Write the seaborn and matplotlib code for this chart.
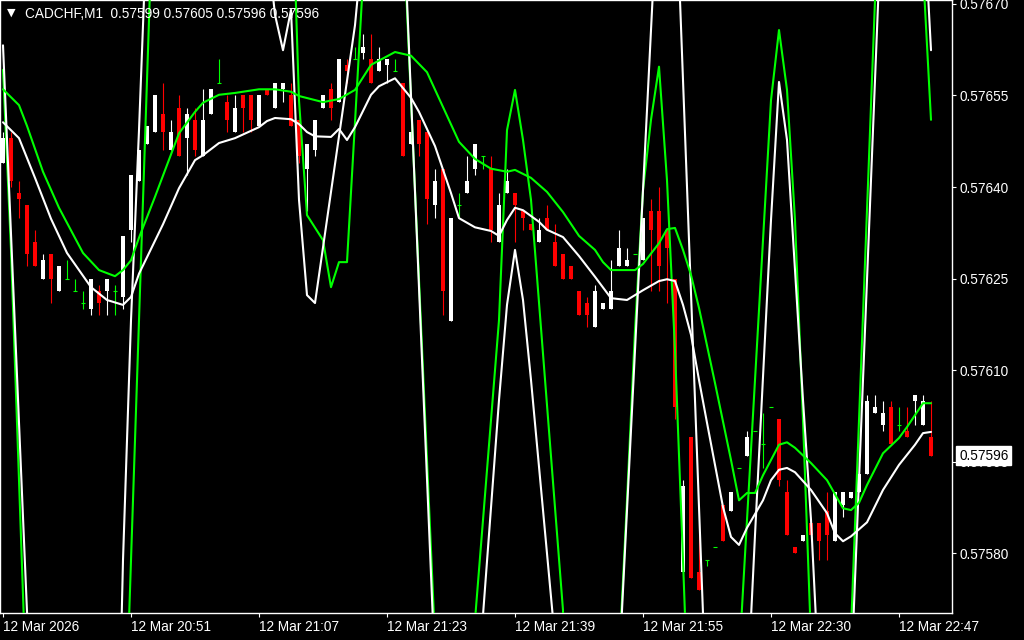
import numpy as np
import matplotlib
matplotlib.use("Agg")
import matplotlib.pyplot as plt
import seaborn as sns
from matplotlib.transforms import blended_transform_factory

# ---------------- data ----------------
symbol_title = "CADCHF,M1  0.57599 0.57605 0.57596 0.57596"
last_price = 0.57596
last_price_label = "0.57596"

open_ = [0.57644, 0.57648, 0.57639, 0.57637, 0.57631, 0.57625, 0.57629, 0.57623, 0.57625, 0.57623,
         0.57621, 0.57620, 0.57623, 0.57623, 0.57623, 0.57622, 0.57633, 0.57641, 0.57647, 0.57649,
         0.57652, 0.57646, 0.57653, 0.57648, 0.57651, 0.57645, 0.57652, 0.57657, 0.57654, 0.57649,
         0.57655, 0.57655, 0.57650, 0.57656, 0.57653, 0.57656, 0.57655, 0.57651, 0.57643, 0.57646,
         0.57653, 0.57656, 0.57654, 0.57660, 0.57661, 0.57662, 0.57661, 0.57659, 0.57660, 0.57659,
         0.57657, 0.57647, 0.57651, 0.57649, 0.57637, 0.57643, 0.57618, 0.57637, 0.57639, 0.57643,
         0.57645, 0.57643, 0.57631, 0.57639, 0.57639, 0.57636, 0.57634, 0.57631, 0.57635, 0.57631,
         0.57629, 0.57627, 0.57623, 0.57621, 0.57617, 0.57620, 0.57620, 0.57627, 0.57627, 0.57629,
         0.57628, 0.57636, 0.57636, 0.57633, 0.57625, 0.57577, 0.57599, 0.57577, 0.57579, 0.57581,
         0.57588, 0.57587, 0.57594, 0.57596, 0.57600, 0.57598, 0.57604, 0.57602, 0.57590, 0.57581,
         0.57582, 0.57585, 0.57585, 0.57587, 0.57582, 0.57588, 0.57589, 0.57590, 0.57593, 0.57603,
         0.57601, 0.57604, 0.57601, 0.57600, 0.57605, 0.57601, 0.57599]
high_ = [0.57649, 0.57649, 0.57641, 0.57637, 0.57633, 0.57629, 0.57629, 0.57627, 0.57628, 0.57625,
         0.57623, 0.57625, 0.57624, 0.57625, 0.57624, 0.57632, 0.57642, 0.57646, 0.57650, 0.57655,
         0.57657, 0.57651, 0.57655, 0.57653, 0.57653, 0.57656, 0.57656, 0.57661, 0.57655, 0.57655,
         0.57655, 0.57655, 0.57655, 0.57656, 0.57657, 0.57657, 0.57657, 0.57651, 0.57647, 0.57651,
         0.57655, 0.57657, 0.57661, 0.57661, 0.57663, 0.57665, 0.57665, 0.57663, 0.57661, 0.57661,
         0.57657, 0.57649, 0.57651, 0.57649, 0.57643, 0.57643, 0.57635, 0.57639, 0.57645, 0.57647,
         0.57645, 0.57645, 0.57639, 0.57643, 0.57639, 0.57636, 0.57634, 0.57635, 0.57637, 0.57634,
         0.57629, 0.57627, 0.57623, 0.57622, 0.57624, 0.57621, 0.57628, 0.57633, 0.57630, 0.57629,
         0.57635, 0.57638, 0.57640, 0.57633, 0.57625, 0.57592, 0.57599, 0.57585, 0.57579, 0.57581,
         0.57588, 0.57590, 0.57594, 0.57600, 0.57600, 0.57603, 0.57604, 0.57602, 0.57592, 0.57581,
         0.57583, 0.57585, 0.57585, 0.57590, 0.57590, 0.57590, 0.57590, 0.57593, 0.57606, 0.57606,
         0.57605, 0.57605, 0.57604, 0.57604, 0.57606, 0.57606, 0.57605]
low_ = [0.57644, 0.57640, 0.57635, 0.57627, 0.57627, 0.57625, 0.57621, 0.57623, 0.57625, 0.57623,
        0.57620, 0.57619, 0.57619, 0.57619, 0.57619, 0.57620, 0.57631, 0.57641, 0.57647, 0.57649,
        0.57646, 0.57646, 0.57645, 0.57642, 0.57645, 0.57645, 0.57652, 0.57657, 0.57649, 0.57649,
        0.57649, 0.57649, 0.57650, 0.57655, 0.57653, 0.57654, 0.57650, 0.57644, 0.57636, 0.57645,
        0.57653, 0.57651, 0.57654, 0.57657, 0.57661, 0.57661, 0.57657, 0.57659, 0.57657, 0.57659,
        0.57645, 0.57647, 0.57645, 0.57634, 0.57635, 0.57619, 0.57618, 0.57635, 0.57639, 0.57642,
        0.57643, 0.57631, 0.57631, 0.57639, 0.57631, 0.57633, 0.57633, 0.57631, 0.57633, 0.57627,
        0.57625, 0.57625, 0.57619, 0.57617, 0.57617, 0.57620, 0.57620, 0.57627, 0.57627, 0.57629,
        0.57628, 0.57623, 0.57623, 0.57621, 0.57602, 0.57577, 0.57576, 0.57574, 0.57578, 0.57581,
        0.57582, 0.57587, 0.57594, 0.57596, 0.57600, 0.57594, 0.57604, 0.57591, 0.57583, 0.57580,
        0.57582, 0.57583, 0.57579, 0.57579, 0.57582, 0.57586, 0.57589, 0.57590, 0.57593, 0.57603,
        0.57600, 0.57598, 0.57600, 0.57599, 0.57601, 0.57601, 0.57596]
close_ = [0.57648, 0.57641, 0.57638, 0.57629, 0.57627, 0.57628, 0.57625, 0.57627, 0.57625, 0.57623,
          0.57621, 0.57625, 0.57621, 0.57625, 0.57623, 0.57632, 0.57642, 0.57646, 0.57650, 0.57655,
          0.57649, 0.57649, 0.57645, 0.57652, 0.57646, 0.57651, 0.57656, 0.57657, 0.57651, 0.57653,
          0.57653, 0.57651, 0.57655, 0.57655, 0.57657, 0.57657, 0.57650, 0.57645, 0.57647, 0.57651,
          0.57655, 0.57653, 0.57661, 0.57659, 0.57661, 0.57663, 0.57657, 0.57661, 0.57661, 0.57659,
          0.57645, 0.57649, 0.57647, 0.57638, 0.57641, 0.57623, 0.57635, 0.57637, 0.57641, 0.57647,
          0.57645, 0.57633, 0.57637, 0.57641, 0.57637, 0.57635, 0.57633, 0.57633, 0.57633, 0.57627,
          0.57625, 0.57625, 0.57619, 0.57619, 0.57623, 0.57621, 0.57623, 0.57630, 0.57628, 0.57629,
          0.57635, 0.57633, 0.57627, 0.57630, 0.57604, 0.57591, 0.57576, 0.57574, 0.57579, 0.57581,
          0.57582, 0.57590, 0.57594, 0.57599, 0.57600, 0.57598, 0.57604, 0.57592, 0.57583, 0.57580,
          0.57583, 0.57583, 0.57582, 0.57583, 0.57590, 0.57590, 0.57590, 0.57593, 0.57605, 0.57604,
          0.57603, 0.57598, 0.57601, 0.57599, 0.57606, 0.57605, 0.57596]

# smooth moving-average lines (bar index, price)
ma_green_idx = [0, 2, 3, 5, 7, 10, 12, 14, 15, 16, 17, 19, 22, 24, 25, 27, 29, 32, 34, 36, 37, 40, 42, 44, 46,
                49, 51, 53, 55, 57, 59, 61, 63, 64, 66, 68, 70, 72, 74, 75, 76, 79, 80, 82, 83, 84, 85, 86,
                87, 89, 91, 92, 93, 94, 95, 97, 98, 99, 101, 103, 105, 106, 107, 108, 110, 112, 113, 115, 116]
ma_green_val = [0.576560, 0.576534, 0.576500, 0.576425, 0.576366, 0.576292, 0.576264, 0.576254, 0.576264,
                0.576280, 0.576317, 0.576384, 0.576488, 0.576523, 0.576538, 0.576551, 0.576554, 0.576560,
                0.576560, 0.576556, 0.576549, 0.576539, 0.576544, 0.576559, 0.576600, 0.576621, 0.576615,
                0.576588, 0.576531, 0.576474, 0.576446, 0.576430, 0.576425, 0.576428, 0.576415, 0.576392,
                0.576359, 0.576320, 0.576297, 0.576277, 0.576264, 0.576264, 0.576274, 0.576308, 0.576331,
                0.576333, 0.576297, 0.576256, 0.576202, 0.576079, 0.575953, 0.575887, 0.575899, 0.575899,
                0.575928, 0.575978, 0.575982, 0.575973, 0.575948, 0.575920, 0.575874, 0.575871, 0.575883,
                0.575912, 0.575964, 0.575989, 0.576007, 0.576046, 0.576046]
ma_white_idx = [0, 2, 4, 6, 8, 11, 13, 15, 16, 17, 20, 22, 24, 25, 27, 29, 32, 33, 34, 36, 37, 38, 39, 41, 42,
                43, 44, 46, 47, 49, 51, 52, 54, 56, 57, 59, 61, 62, 63, 64, 65, 67, 68, 70, 72, 74, 76, 78,
                80, 82, 83, 84, 85, 86, 87, 88, 90, 91, 92, 93, 95, 96, 97, 98, 99, 101, 103, 104, 105, 106,
                108, 110, 112, 114, 115, 116]
ma_white_val = [0.576506, 0.576480, 0.576415, 0.576348, 0.576292, 0.576236, 0.576215, 0.576207, 0.576220,
                0.576258, 0.576339, 0.576398, 0.576444, 0.576452, 0.576472, 0.576480, 0.576498, 0.576508,
                0.576513, 0.576511, 0.576503, 0.576490, 0.576483, 0.576482, 0.576495, 0.576477, 0.576498,
                0.576551, 0.576565, 0.576578, 0.576546, 0.576523, 0.576467, 0.576390, 0.576349, 0.576334,
                0.576328, 0.576320, 0.576346, 0.576366, 0.576362, 0.576343, 0.576330, 0.576318, 0.576287,
                0.576253, 0.576218, 0.576215, 0.576231, 0.576246, 0.576249, 0.576246, 0.576207, 0.576158,
                0.576084, 0.576014, 0.575876, 0.575827, 0.575814, 0.575842, 0.575887, 0.575920, 0.575937,
                0.575940, 0.575933, 0.575904, 0.575866, 0.575833, 0.575820, 0.575828, 0.575851, 0.575904,
                0.575945, 0.575978, 0.575997, 0.575999]

# wildly swinging indicator lines (run far beyond the visible price window)
wild_white_idx = [0, 4, 5, 13, 14, 15, 16, 17, 18, 19, 32, 33, 34, 35, 36, 37, 38, 39, 44, 45, 46, 49, 50, 54,
                  55, 59, 60, 62, 63, 64, 65, 66, 69, 70, 76, 77, 78, 79, 80, 81, 82, 83, 84, 85, 86, 87, 88,
                  89, 92, 93, 94, 95, 96, 97, 98, 99, 100, 101, 102, 103, 105, 106, 107, 108, 109, 110, 111,
                  114, 115, 116]
wild_white_val = [0.576632, 0.575396, 0.574900, 0.574900, 0.575233, 0.575789, 0.576182, 0.576493, 0.576837,
                  0.577361, 0.577361, 0.576804, 0.576682, 0.576624, 0.576690, 0.576379, 0.576223, 0.576210,
                  0.576665, 0.576804, 0.577361, 0.577361, 0.576862, 0.575609, 0.574900, 0.574900, 0.575699,
                  0.576051, 0.576207, 0.576297, 0.576215, 0.576084, 0.575658, 0.574900, 0.574900, 0.575609,
                  0.575871, 0.576133, 0.576395, 0.576657, 0.576919, 0.577361, 0.576924, 0.576575, 0.576226,
                  0.575876, 0.575527, 0.574900, 0.574900, 0.575560, 0.575830, 0.576089, 0.576346, 0.576572,
                  0.576477, 0.576264, 0.576051, 0.575855, 0.575593, 0.574900, 0.574900, 0.575593, 0.575920,
                  0.576248, 0.576575, 0.576903, 0.577361, 0.577361, 0.576870, 0.576624]
wild_green_idx = [0, 1, 2, 3, 4, 14, 15, 16, 17, 18, 19, 20, 35, 36, 37, 38, 40, 41, 42, 43, 44, 45, 46, 49,
                  50, 51, 52, 53, 54, 55, 58, 59, 62, 63, 64, 65, 66, 70, 71, 76, 77, 78, 79, 80, 81, 82, 83,
                  84, 85, 86, 87, 91, 92, 93, 94, 95, 96, 97, 98, 99, 100, 101, 102, 105, 106, 107, 108, 109,
                  110, 111, 114, 115, 116]
wild_green_val = [0.576592, 0.576297, 0.575920, 0.575544, 0.574900, 0.574900, 0.575396, 0.575789, 0.576182,
                  0.576575, 0.576968, 0.577361, 0.577361, 0.576952, 0.576542, 0.576354, 0.576313, 0.576236,
                  0.576277, 0.576277, 0.576506, 0.576739, 0.577361, 0.577361, 0.576837, 0.576542, 0.576248,
                  0.575953, 0.575658, 0.574900, 0.574900, 0.575691, 0.576182, 0.576493, 0.576559, 0.576477,
                  0.576379, 0.575707, 0.574900, 0.574900, 0.575625, 0.575887, 0.576166, 0.576395, 0.576510,
                  0.576597, 0.576411, 0.576133, 0.575789, 0.575429, 0.574900, 0.574900, 0.575625, 0.575855,
                  0.576084, 0.576313, 0.576542, 0.576657, 0.576559, 0.576346, 0.576018, 0.575658, 0.574900,
                  0.574900, 0.575675, 0.576018, 0.576362, 0.576706, 0.577034, 0.577361, 0.577361, 0.576755,
                  0.576510]

ytick_vals = [0.57670, 0.57655, 0.57640, 0.57625, 0.57610, 0.57595, 0.57580]
ytick_labels = ["0.57670", "0.57655", "0.57640", "0.57625", "0.57610", "0.57595", "0.57580"]
xtick_bars = [0, 16, 32, 48, 64, 80, 96, 112]
xtick_labels = ["12 Mar 2026", "12 Mar 20:51", "12 Mar 21:07", "12 Mar 21:23",
                "12 Mar 21:39", "12 Mar 21:55", "12 Mar 22:30", "12 Mar 22:47"]

# ---------------- style ----------------
BG = "#000000"
RED = "#ff0000"
LIME = "#00ff00"
WHITE = "#ffffff"

sns.set_style("dark", {"axes.facecolor": BG, "figure.facecolor": BG,
                       "axes.edgecolor": WHITE, "text.color": WHITE,
                       "xtick.color": WHITE, "ytick.color": WHITE})
plt.rcParams["font.family"] = ["Liberation Sans", "DejaVu Sans"]

W, H = 1024, 640
fig = plt.figure(figsize=(W / 100, H / 100), dpi=100)
fig.patch.set_facecolor(BG)
ax = fig.add_axes([0, 27 / H, 952 / W, 613 / H])
ax.set_facecolor(BG)

o = np.array(open_)
h = np.array(high_)
l = np.array(low_)
c = np.array(close_)
bars = np.arange(len(o))
up = c > o
dn = c < o
dj = c == o
bw = 0.62

# candles
ax.vlines(bars[up], l[up], h[up], color=WHITE, lw=0.8, zorder=2)
ax.bar(bars[up], c[up] - o[up], bottom=o[up], width=bw, color=WHITE, linewidth=0, zorder=3)
ax.vlines(bars[dn], l[dn], h[dn], color=RED, lw=0.8, zorder=2)
ax.bar(bars[dn], o[dn] - c[dn], bottom=c[dn], width=bw, color=RED, linewidth=0, zorder=3)
ax.vlines(bars[dj], l[dj], h[dj], color=LIME, lw=0.8, zorder=2)
ax.hlines(o[dj], bars[dj] - bw / 2, bars[dj] + bw / 2, color=LIME, lw=0.8, zorder=3)

# indicator lines
lw = 1.5
sns.lineplot(x=wild_green_idx, y=wild_green_val, ax=ax, color=LIME, linewidth=lw,
             sort=False, estimator=None, zorder=4)
sns.lineplot(x=wild_white_idx, y=wild_white_val, ax=ax, color=WHITE, linewidth=lw,
             sort=False, estimator=None, zorder=4)
sns.lineplot(x=ma_green_idx, y=ma_green_val, ax=ax, color=LIME, linewidth=lw,
             sort=False, estimator=None, zorder=5)
sns.lineplot(x=ma_white_idx, y=ma_white_val, ax=ax, color=WHITE, linewidth=lw,
             sort=False, estimator=None, zorder=5)

# axes
ax.set_xlim(-0.375, 118.625)
ax.set_ylim(0.5757025, 0.5767062)
ax.grid(False)
for s in ax.spines.values():
    s.set_color(WHITE)
    s.set_linewidth(1.0)
    s.set_visible(True)

ax.yaxis.tick_right()
ax.set_yticks(ytick_vals)
ax.set_yticklabels(ytick_labels)
ax.tick_params(axis="y", colors=WHITE, length=3, width=0.8, pad=2.5, labelsize=9.8,
               right=True, left=False, direction="out")
ax.set_xticks(xtick_bars)
ax.set_xticklabels(xtick_labels, ha="left")
ax.tick_params(axis="x", colors=WHITE, length=3, width=0.8, pad=2, labelsize=9.8,
               bottom=True, direction="out")
ax.set_xlabel("")
ax.set_ylabel("")

# current price box
trans = blended_transform_factory(ax.transAxes, ax.transData)
ax.annotate(last_price_label, xy=(1, last_price), xycoords=trans, xytext=(7, 0),
            textcoords="offset pixels", ha="left", va="center", color="black", fontsize=9.8,
            bbox=dict(boxstyle="square,pad=0.2", fc=WHITE, ec=WHITE),
            annotation_clip=False, zorder=10)

# title
fig.text(7 / W, 1 - 13 / H, "\u25BC", family=["DejaVu Sans"], fontsize=8, color=WHITE,
         ha="left", va="center")
fig.text(25 / W, 1 - 14 / H, symbol_title, fontsize=9.8, color=WHITE, ha="left", va="center")

fig.savefig("out.png", dpi=100, facecolor=BG)
